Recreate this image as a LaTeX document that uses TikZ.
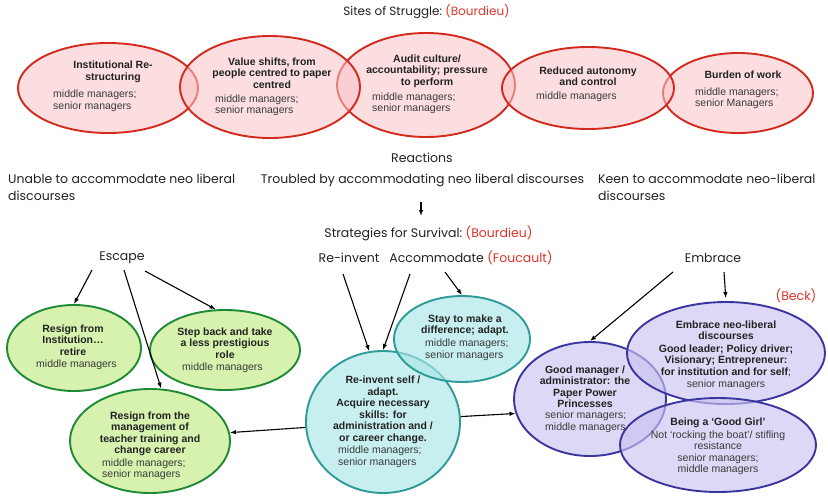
\documentclass[tikz,border=0pt]{standalone}
\usepackage{fontspec}
\setmainfont{Liberation Sans}
\newfontfamily\gothic{Poppins}
\usetikzlibrary{shapes.geometric,arrows.meta,calc}
\definecolor{redS}{HTML}{D42A1E}
\definecolor{redF}{HTML}{F9C3C9}
\definecolor{greenS}{HTML}{1F8A35}
\definecolor{greenF}{HTML}{D6F2AE}
\definecolor{cyanS}{HTML}{2E9B98}
\definecolor{cyanF}{HTML}{A9E6E6}
\definecolor{purpS}{HTML}{3B35A0}
\definecolor{purpF}{HTML}{C9C3F0}
\definecolor{refred}{HTML}{E0342A}
\definecolor{hdcol}{HTML}{222222}
\definecolor{subcol}{HTML}{3A3A3A}
\definecolor{lblcol}{HTML}{222222}
\begin{document}
\begin{tikzpicture}[x=1pt,y=-1pt,
  ell/.style={ellipse, inner sep=0pt, line width=1.9pt},
  redell/.style={ell, draw=redS, fill=redF, fill opacity=0.55},
  greenell/.style={ell, draw=greenS, fill=greenF},
  cyanell/.style={ell, draw=cyanS, fill=cyanF, fill opacity=0.65},
  purpell/.style={ell, draw=purpS, fill=purpF, fill opacity=0.65},
  hd/.style={font=\bfseries\fontsize{10.5}{11.5}\selectfont, align=center, text=hdcol, inner sep=0pt},
  sub/.style={font=\fontsize{10.5}{11.5}\selectfont, align=left, text=subcol, inner sep=0pt, anchor=west},
  subc/.style={font=\fontsize{10.5}{11.5}\selectfont, align=center, text=subcol, inner sep=0pt},
  lbl/.style={font=\gothic\fontsize{12.5}{17}\selectfont, text=lblcol, inner sep=0pt},
  arr/.style={-{Latex[length=6pt,width=4.5pt]}, line width=1.1pt, black}
]
\useasboundingbox (0,0) rectangle (828,496);

% ---------- top row: sites of struggle ----------
\node[lbl, font=\gothic\fontsize{12}{17}\selectfont] (sites) at (426.5,12) {Sites of Struggle:\ \textcolor{refred}{(Bourdieu)}};

\node[redell, minimum width=180, minimum height=90] (r1) at (108,88) {};
\node[redell, minimum width=178, minimum height=104] (r3) at (426,85) {};
\node[redell, minimum width=150, minimum height=80] (r5) at (738,93) {};
\node[redell, minimum width=180, minimum height=102] (r2) at (270,87) {};
\node[redell, minimum width=172, minimum height=82] (r4) at (588,88) {};

\node[hd] (r1h) at (113,72) {Institutional Re-\\structuring};
\node[sub] (r1s) at (53,101) {middle managers;\\senior managers};
\node[hd] (r2h) at (272,73) {Value shifts, from\\people centred to paper\\centred};
\node[sub] (r2s) at (215,105.5) {middle managers;\\senior managers};
\node[hd] (r3h) at (427,71) {Audit culture/\\accountability; pressure\\to perform};
\node[sub] (r3s) at (372,103.5) {middle managers;\\senior managers};
\node[hd] (r4h) at (588,76) {Reduced autonomy\\and control};
\node[sub] (r4s) at (536,97) {middle managers};
\node[hd] (r5h) at (743,75) {Burden of work};
\node[sub] (r5s) at (695,98.5) {middle managers;\\senior Managers};

% ---------- reactions ----------
\node[lbl] (reactions) at (422,158) {Reactions};
\node[lbl, anchor=north west, align=left] (unable) at (8,173.5) {Unable to accommodate neo liberal\\discourses};
\node[lbl, anchor=north] (troubled) at (422.5,173.5) {Troubled by accommodating neo liberal discourses};
\node[lbl, anchor=north west, align=left] (keen) at (598,173.5) {Keen to accommodate neo-liberal\\discourses};
\node[lbl] (strategies) at (428.5,233) {Strategies for Survival:\ \textcolor{refred}{(Bourdieu)}};
\draw[arr] ($(strategies)+(-7.5,-31)$) -- ($(strategies)+(-7.5,-17)$);

\node[lbl] (escape) at (122,258) {Escape};
\node[lbl] (reinvent) at (349,258) {Re-invent};
\node[lbl] (accommodate) at (471,258) {Accommodate\ \textcolor{refred}{(Foucault)}};
\node[lbl] (embrace) at (713,258) {Embrace};
\node[lbl] (beck) at (796,296) {\textcolor{refred}{(Beck)}};

% ---------- green ----------
\node[greenell, minimum width=134, minimum height=86] (g1) at (74,348) {};
\node[greenell, minimum width=150, minimum height=80] (g2) at (225,350) {};
\node[greenell, minimum width=160, minimum height=104] (g3) at (150,441) {};
\node[hd] (g1h) at (73,340) {Resign from\\Institution\dots\\retire};
\node[sub] (g1s) at (36,365) {middle managers};
\node[hd] (g2h) at (225,343) {Step back and take\\a less prestigious\\role};
\node[sub] (g2s) at (182,368) {middle managers};
\node[hd] (g3h) at (150,434) {Resign from the\\management of\\teacher training and\\change career};
\node[sub] (g3s) at (102,469.5) {middle managers;\\senior managers};

% ---------- cyan ----------
\node[cyanell, minimum width=154, minimum height=142] (c2) at (383,422) {};
\node[cyanell, minimum width=136, minimum height=86] (c1) at (462,339) {};
\node[hd] (c1h) at (465,325.5) {Stay to make a\\difference; adapt.};
\node[sub] (c1s) at (425,350) {middle managers;\\senior managers};
\node[hd] (c2h) at (383,410) {Re-invent self /\\adapt.\\Acquire necessary\\skills: for\\administration and /\\or career change.};
\node[sub] (c2s) at (338,457) {middle managers;\\senior managers};

% ---------- purple ----------
\node[purpell, minimum width=152, minimum height=114] (p1) at (590,399) {};
\node[purpell, minimum width=198, minimum height=102] (p2) at (726,353) {};
\node[purpell, minimum width=196, minimum height=94] (p3) at (718,445) {};
\node[hd] (p1h) at (585,386.5) {Good manager /\\administrator: the\\Paper Power\\Princesses};
\node[sub] (p1s) at (545,422) {senior managers;\\middle managers};
\node[hd] (p2h) at (726,330) {Embrace neo-liberal\\discourses};
\node[hd] (p2h2) at (726,360.5) {Good leader; Policy driver;\\Visionary; Entrepreneur:\\for institution and for self\textmd{;}};
\node[subc] (p2s) at (726,385) {senior managers};
\node[hd] (p3h) at (718,423) {Being a ‘Good Girl’};
\node[subc] (p3s) at (718,453) {Not ‘rocking the boat’/ stifling\\resistance\\senior managers;\\middle managers};

% ---------- arrows ----------
\draw[arr] ($(escape)+(-30,12)$) -- (g1.north);
\draw[arr] ($(escape)+(2,12)$) -- (g3.78);
\draw[arr] ($(escape)+(23,13)$) -- (g2.103);
\draw[arr] ($(reinvent)+(-6,16)$) -- (c2.101);
\draw[arr] ($(accommodate)+(-61,16)$) -- (c2.north);
\draw[arr] ($(accommodate)+(-26,14)$) -- (c1.north);
\draw[arr] ($(embrace)+(-40,14)$) -- (p1.north);
\draw[arr, shorten >=3pt] ($(embrace)+(11,14)$) -- (p2.north);
\draw[arr] (c2.4) -- (p1.191);
\draw[arr] (c2.184) -- (g3.6);
\end{tikzpicture}
\end{document}
